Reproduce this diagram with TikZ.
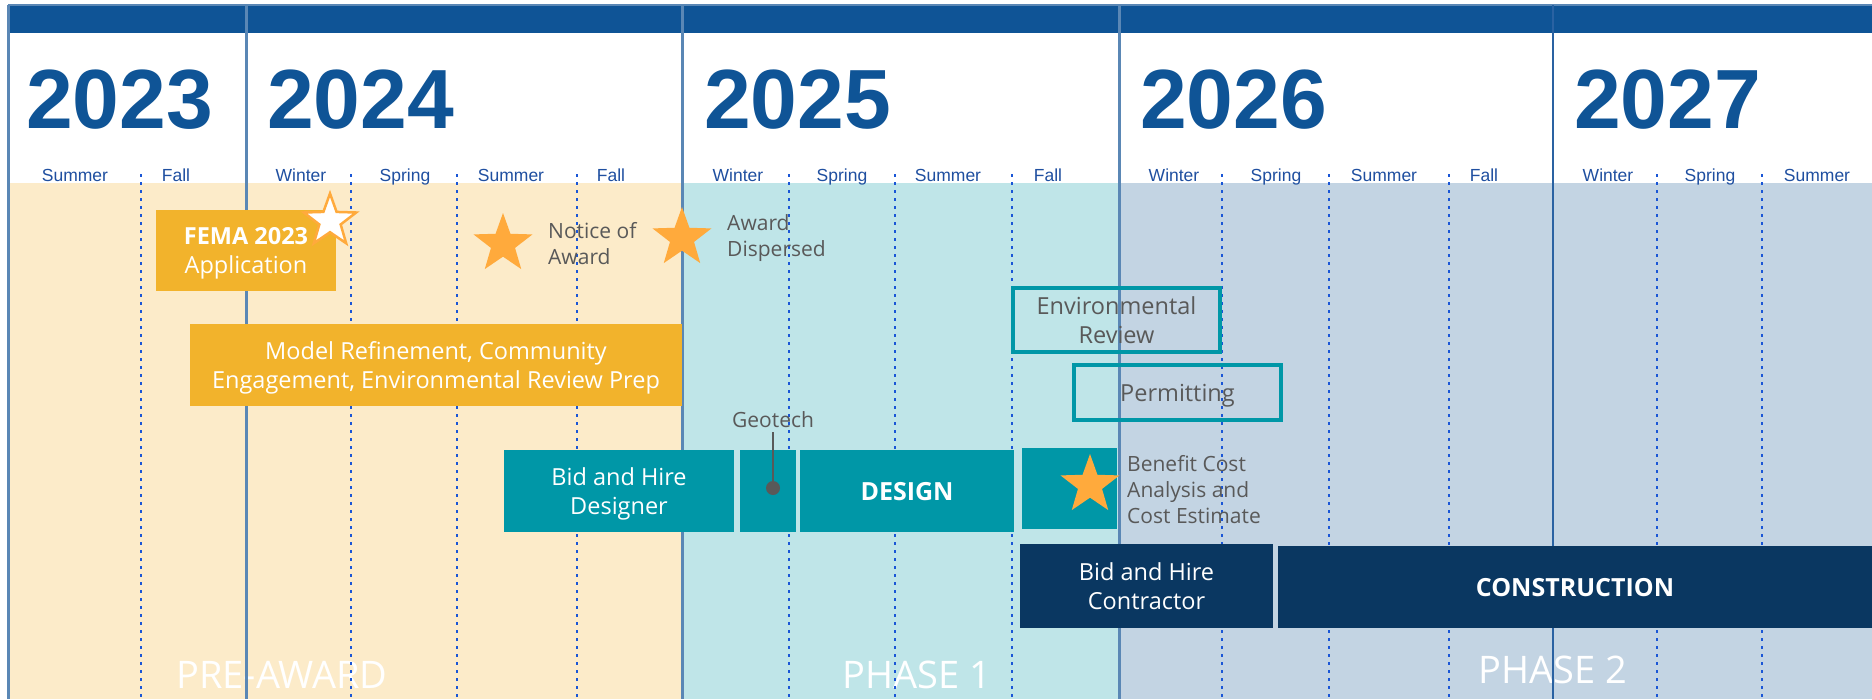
\documentclass[tikz,border=0pt]{standalone}
\usepackage{fontspec}
\setmainfont{Open Sans}
\newfontfamily\yearfont{Liberation Sans}
\newfontfamily\seasonfont{Liberation Sans}
\usetikzlibrary{shapes.geometric}
\definecolor{bandblue}{HTML}{0F5496}
\definecolor{seasonblue}{HTML}{1F4FA0}
\definecolor{dotblue}{HTML}{1A56D6}
\definecolor{dividerblue}{HTML}{5A87B5}
\definecolor{darkdivider}{HTML}{2A62A2}
\definecolor{preaward}{HTML}{FCEBC9}
\definecolor{phaseone}{HTML}{BFE5E8}
\definecolor{phasetwo}{HTML}{C3D4E3}
\definecolor{goldbox}{HTML}{F2B32C}
\definecolor{starorange}{HTML}{FFAA3C}
\definecolor{tealbox}{HTML}{0097A7}
\definecolor{navybox}{HTML}{0A3761}
\definecolor{graytext}{HTML}{595959}
\begin{document}
\begin{tikzpicture}[x=1pt,y=-1pt,
  yearlabel/.style={font=\yearfont\bfseries\fontsize{84}{84}\selectfont, text=bandblue, anchor=base west, inner sep=0},
  season/.style={font=\seasonfont\fontsize{17.5}{18}\selectfont, text=seasonblue, anchor=base, inner sep=0},
  phaselabel/.style={font=\fontsize{38}{40}\selectfont, text=white, anchor=base, inner sep=0},
  dotline/.style={dotblue, line width=2pt, dash pattern=on 2.5pt off 5.5pt},
  divline/.style={dividerblue, line width=3pt},
  barbox/.style={anchor=north west, inner sep=0, outer sep=0, align=center, text=white, text depth=0pt, font=\fontsize{23.5}{29}\selectfont},
  goldbar/.style={barbox, fill=goldbox},
  tealbar/.style={barbox, fill=tealbox},
  navybar/.style={barbox, fill=navybox},
  outlinebox/.style={barbox, draw=tealbox, line width=3.5pt, text=graytext},
  boldtext/.style={font=\bfseries\fontsize{25}{29}\selectfont},
  note/.style={text=graytext, font=\fontsize{21}{26}\selectfont, align=left, anchor=west, inner sep=0},
  orangestar/.style={star, star points=5, star point ratio=2.45, fill=starorange, inner sep=0, minimum size=62pt},
  whitestar/.style={star, star points=5, star point ratio=2.45, fill=white, draw=starorange, line width=2.5pt, inner sep=0, minimum size=55pt}
]
\useasboundingbox (0,0) rectangle (1872,699);
\fill[white] (0,0) rectangle (1872,699);

% phase backgrounds
\fill[preaward] (8,183) rectangle (682,699);
\fill[phaseone] (682,183) rectangle (1119,699);
\fill[phasetwo] (1119,183) rectangle (1872,699);

% top band
\fill[bandblue] (8,5) rectangle (1872,33);
\draw[dividerblue, line width=2pt] (8,5) -- (1872,5);

% phase labels
\node[phaselabel] (preawardlbl) at (282,688) {PRE-AWARD};
\node[phaselabel] (phaseonelbl) at (917,688) {PHASE 1};
\node[phaselabel] (phasetwolbl) at (1553,683) {PHASE 2};

% dotted season separators
\foreach \xx in {141,351,457,577,789,895,1012,1222,1329,1449,1657,1762}
  \draw[dotline] (\xx,174) -- (\xx,699);

% year dividers
\draw[divline] (8,5) -- (8,699);
\draw[divline] (246,5) -- (246,699);
\draw[divline] (682,5) -- (682,699);
\draw[divline] (1119,5) -- (1119,699);
\draw[darkdivider, line width=2pt] (1553,5) -- (1553,699);

% year labels
\node[yearlabel] (y2023) at (26,128) {2023};
\node[yearlabel] (y2024) at (267,128) {2024};
\node[yearlabel] (y2025) at (704,128) {2025};
\node[yearlabel] (y2026) at (1140,128) {2026};
\node[yearlabel] (y2027) at (1574,128) {2027};

% season labels
\node[season] (s1) at (75,181) {Summer};
\node[season] (s2) at (176,181) {Fall};
\node[season] (s3) at (301,181) {Winter};
\node[season] (s4) at (405,181) {Spring};
\node[season] (s5) at (511,181) {Summer};
\node[season] (s6) at (611,181) {Fall};
\node[season] (s7) at (738,181) {Winter};
\node[season] (s8) at (842,181) {Spring};
\node[season] (s9) at (948,181) {Summer};
\node[season] (s10) at (1048,181) {Fall};
\node[season] (s11) at (1174,181) {Winter};
\node[season] (s12) at (1276,181) {Spring};
\node[season] (s13) at (1384,181) {Summer};
\node[season] (s14) at (1484,181) {Fall};
\node[season] (s15) at (1608,181) {Winter};
\node[season] (s16) at (1710,181) {Spring};
\node[season] (s17) at (1817,181) {Summer};

% gold boxes
\node[goldbar, minimum width=180pt, minimum height=81pt] (fema) at (156,210)
  {{\bfseries FEMA 2023}\\Application};
\node[whitestar] (femastar) at (330,221) {};
\node[goldbar, minimum width=492pt, minimum height=82pt] (model) at (190,324)
  {Model Refinement, Community\\Engagement, Environmental Review Prep};

% milestones
\node[orangestar] (noticestar) at (503,244) {};
\node[note] (noticetxt) at (548,244) {Notice of\\Award};
\node[orangestar] (dispstar) at (682,238) {};
\node[note] (disptxt) at (727,238) {Award\\Dispersed};

% outlined boxes
\node[outlinebox, minimum width=207pt, minimum height=64pt] (envrev) at (1013,288)
  {Environmental\\Review};
\node[outlinebox, minimum width=207pt, minimum height=55pt] (permit) at (1074,365)
  {Permitting};

% teal design row
\node[tealbar, minimum width=230pt, minimum height=82pt] (biddesign) at (504,450)
  {Bid and Hire\\Designer};
\node[tealbar, minimum width=56pt, minimum height=82pt] (geobox) at (740,450) {};
\node[tealbar, boldtext, minimum width=214pt, minimum height=82pt] (design) at (800,450) {DESIGN};
\node[tealbar, minimum width=95pt, minimum height=81pt] (bcabox) at (1022,448) {};
\node[orangestar] (bcastar) at (1090,485) {};
\node[note] (bcatxt) at (1127,490) {Benefit Cost\\Analysis and\\Cost Estimate};

% geotech pin
\node[text=graytext, font=\fontsize{21}{26}\selectfont, inner sep=0] (geolbl) at (773,420) {Geotech};
\node[circle, fill=graytext, inner sep=0, minimum size=14pt] (geodot) at (773,488) {};
\coordinate (geotop) at (773,432);
\draw[graytext, line width=2.5pt] (geodot.center) -- (geotop);

% navy construction row
\node[navybar, minimum width=253pt, minimum height=84pt] (bidcontr) at (1020,544)
  {Bid and Hire\\Contractor};
\node[navybar, boldtext, minimum width=594pt, minimum height=82pt] (constr) at (1278,546) {CONSTRUCTION};
\end{tikzpicture}
\end{document}
